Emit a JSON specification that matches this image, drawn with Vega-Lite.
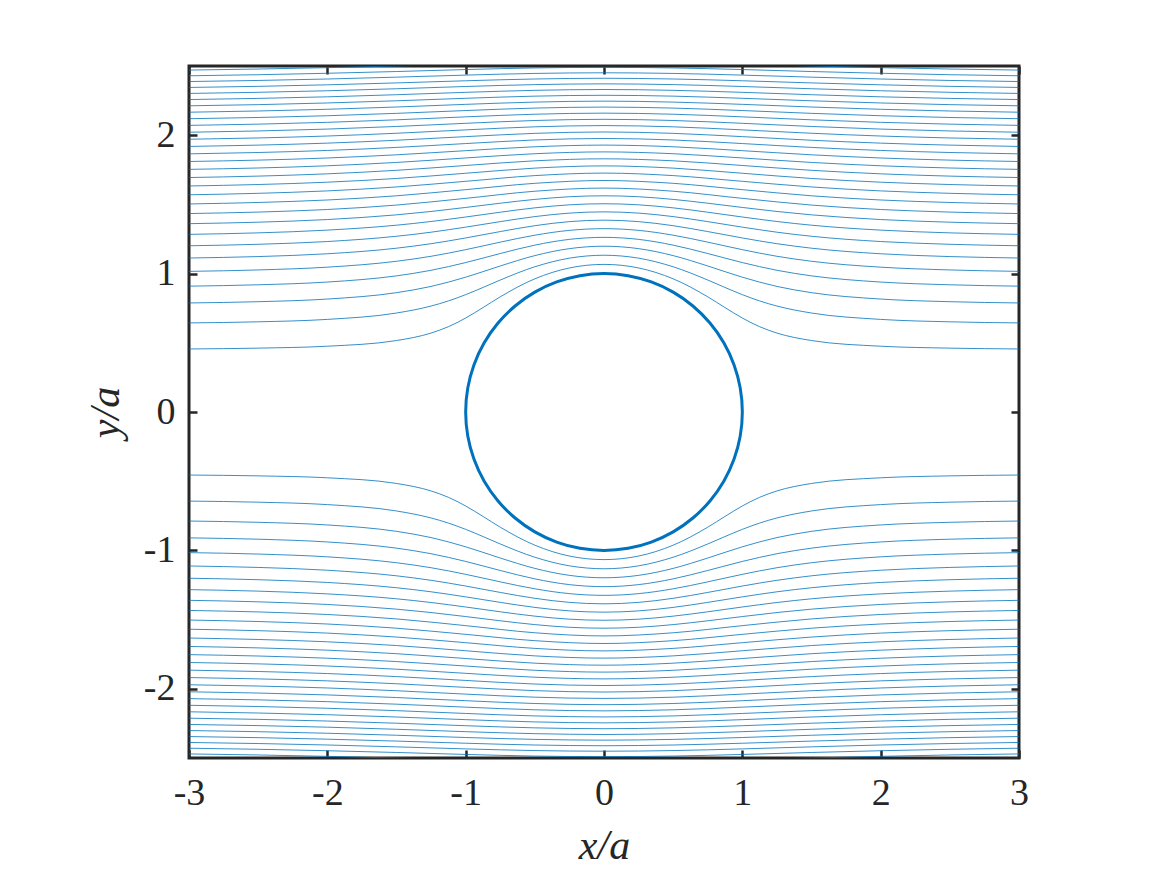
{
"$schema":"https://vega.github.io/schema/vega-lite/v6.json",
"width":830,"height":692,
"autosize":{"type":"none"},
"padding":{"left":189,"top":66,"right":148,"bottom":117},
"background":"white",
"config":{
 "view":{"stroke":"#262626","strokeWidth":3},
 "axis":{"labelFont":"Liberation Serif","labelFontSize":38,"labelColor":"#262626","tickColor":"#262626","tickWidth":2.5,"tickSize":-8,"domain":false,"grid":false,"labelFlush":false,"labelOverlap":false,"titleFont":"Liberation Serif","titleFontStyle":"italic","titleFontWeight":"normal","titleFontSize":42,"titleColor":"#262626","labelExpr":"datum.value < 0 ? '-' + abs(datum.value) : '' + datum.value"}
},
"datasets":{
"s":[
{"l":"a1","x":-3,"y":0.4555},{"l":"a1","x":-2.5,"y":0.4615},{"l":"a1","x":-2,"y":0.4754},{"l":"a1","x":-1.5,"y":0.5163},{"l":"a1","x":-1.25,"y":0.5705},{"l":"a1","x":-1.125,"y":0.6164},{"l":"a1","x":-1,"y":0.679},{"l":"a1","x":-0.875,"y":0.7543},{"l":"a1","x":-0.75,"y":0.8322},{"l":"a1","x":-0.5,"y":0.9623},{"l":"a1","x":-0.25,"y":1.0408},{"l":"a1","x":0,"y":1.0666},{"l":"a1","x":0.25,"y":1.0408},{"l":"a1","x":0.5,"y":0.9623},{"l":"a1","x":0.75,"y":0.8322},{"l":"a1","x":0.875,"y":0.7543},{"l":"a1","x":1,"y":0.679},{"l":"a1","x":1.125,"y":0.6164},{"l":"a1","x":1.25,"y":0.5705},{"l":"a1","x":1.5,"y":0.5163},{"l":"a1","x":2,"y":0.4754},{"l":"a1","x":2.5,"y":0.4615},{"l":"a1","x":3,"y":0.4555},
{"l":"a2","x":-3,"y":0.6437},{"l":"a2","x":-2.5,"y":0.6516},{"l":"a2","x":-2,"y":0.6691},{"l":"a2","x":-1.5,"y":0.7152},{"l":"a2","x":-1.25,"y":0.7656},{"l":"a2","x":-1.125,"y":0.8025},{"l":"a2","x":-1,"y":0.8479},{"l":"a2","x":-0.875,"y":0.8997},{"l":"a2","x":-0.75,"y":0.9535},{"l":"a2","x":-0.5,"y":1.0493},{"l":"a2","x":-0.25,"y":1.1115},{"l":"a2","x":0,"y":1.1327},{"l":"a2","x":0.25,"y":1.1115},{"l":"a2","x":0.5,"y":1.0493},{"l":"a2","x":0.75,"y":0.9535},{"l":"a2","x":0.875,"y":0.8997},{"l":"a2","x":1,"y":0.8479},{"l":"a2","x":1.125,"y":0.8025},{"l":"a2","x":1.25,"y":0.7656},{"l":"a2","x":1.5,"y":0.7152},{"l":"a2","x":2,"y":0.6691},{"l":"a2","x":2.5,"y":0.6516},{"l":"a2","x":3,"y":0.6437},
{"l":"a3","x":-3,"y":0.7879},{"l":"a3","x":-2.5,"y":0.797},{"l":"a3","x":-2,"y":0.8161},{"l":"a3","x":-1.5,"y":0.8623},{"l":"a3","x":-1.25,"y":0.9074},{"l":"a3","x":-1,"y":0.974},{"l":"a3","x":-0.75,"y":1.0551},{"l":"a3","x":-0.5,"y":1.13},{"l":"a3","x":-0.25,"y":1.1804},{"l":"a3","x":0,"y":1.1979},{"l":"a3","x":0.25,"y":1.1804},{"l":"a3","x":0.5,"y":1.13},{"l":"a3","x":0.75,"y":1.0551},{"l":"a3","x":1,"y":0.974},{"l":"a3","x":1.25,"y":0.9074},{"l":"a3","x":1.5,"y":0.8623},{"l":"a3","x":2,"y":0.8161},{"l":"a3","x":2.5,"y":0.797},{"l":"a3","x":3,"y":0.7879},
{"l":"a4","x":-3,"y":0.9093},{"l":"a4","x":-2.5,"y":0.9191},{"l":"a4","x":-2,"y":0.939},{"l":"a4","x":-1.5,"y":0.9837},{"l":"a4","x":-1.25,"y":1.0239},{"l":"a4","x":-1,"y":1.0797},{"l":"a4","x":-0.75,"y":1.1451},{"l":"a4","x":-0.5,"y":1.2057},{"l":"a4","x":-0.25,"y":1.2473},{"l":"a4","x":0,"y":1.2619},{"l":"a4","x":0.25,"y":1.2473},{"l":"a4","x":0.5,"y":1.2057},{"l":"a4","x":0.75,"y":1.1451},{"l":"a4","x":1,"y":1.0797},{"l":"a4","x":1.25,"y":1.0239},{"l":"a4","x":1.5,"y":0.9837},{"l":"a4","x":2,"y":0.939},{"l":"a4","x":2.5,"y":0.9191},{"l":"a4","x":3,"y":0.9093},
{"l":"a5","x":-3,"y":1.0161},{"l":"a5","x":-2.5,"y":1.0264},{"l":"a5","x":-2,"y":1.0465},{"l":"a5","x":-1.5,"y":1.0891},{"l":"a5","x":-1.25,"y":1.1252},{"l":"a5","x":-1,"y":1.1729},{"l":"a5","x":-0.75,"y":1.2273},{"l":"a5","x":-0.5,"y":1.2775},{"l":"a5","x":-0.25,"y":1.3124},{"l":"a5","x":0,"y":1.3247},{"l":"a5","x":0.25,"y":1.3124},{"l":"a5","x":0.5,"y":1.2775},{"l":"a5","x":0.75,"y":1.2273},{"l":"a5","x":1,"y":1.1729},{"l":"a5","x":1.25,"y":1.1252},{"l":"a5","x":1.5,"y":1.0891},{"l":"a5","x":2,"y":1.0465},{"l":"a5","x":2.5,"y":1.0264},{"l":"a5","x":3,"y":1.0161},
{"l":"a6","x":-3,"y":1.1126},{"l":"a6","x":-2.5,"y":1.1231},{"l":"a6","x":-2,"y":1.1432},{"l":"a6","x":-1.5,"y":1.1836},{"l":"a6","x":-1.25,"y":1.2161},{"l":"a6","x":-1,"y":1.2575},{"l":"a6","x":-0.75,"y":1.3037},{"l":"a6","x":-0.5,"y":1.3461},{"l":"a6","x":-0.25,"y":1.3756},{"l":"a6","x":0,"y":1.3861},{"l":"a6","x":0.25,"y":1.3756},{"l":"a6","x":0.5,"y":1.3461},{"l":"a6","x":0.75,"y":1.3037},{"l":"a6","x":1,"y":1.2575},{"l":"a6","x":1.25,"y":1.2161},{"l":"a6","x":1.5,"y":1.1836},{"l":"a6","x":2,"y":1.1432},{"l":"a6","x":2.5,"y":1.1231},{"l":"a6","x":3,"y":1.1126},
{"l":"a7","x":-3,"y":1.2011},{"l":"a7","x":-2.5,"y":1.2118},{"l":"a7","x":-2,"y":1.2317},{"l":"a7","x":-1.5,"y":1.2698},{"l":"a7","x":-1.25,"y":1.2992},{"l":"a7","x":-1,"y":1.3357},{"l":"a7","x":-0.75,"y":1.3755},{"l":"a7","x":-0.5,"y":1.4118},{"l":"a7","x":-0.25,"y":1.4371},{"l":"a7","x":0,"y":1.4462},{"l":"a7","x":0.25,"y":1.4371},{"l":"a7","x":0.5,"y":1.4118},{"l":"a7","x":0.75,"y":1.3755},{"l":"a7","x":1,"y":1.3357},{"l":"a7","x":1.25,"y":1.2992},{"l":"a7","x":1.5,"y":1.2698},{"l":"a7","x":2,"y":1.2317},{"l":"a7","x":2.5,"y":1.2118},{"l":"a7","x":3,"y":1.2011},
{"l":"a8","x":-3,"y":1.2835},{"l":"a8","x":-2.5,"y":1.2943},{"l":"a8","x":-2,"y":1.3142},{"l":"a8","x":-1.5,"y":1.3497},{"l":"a8","x":-1.25,"y":1.3765},{"l":"a8","x":-1,"y":1.4089},{"l":"a8","x":-0.75,"y":1.4436},{"l":"a8","x":-0.5,"y":1.4751},{"l":"a8","x":-0.25,"y":1.497},{"l":"a8","x":0,"y":1.5048},{"l":"a8","x":0.25,"y":1.497},{"l":"a8","x":0.5,"y":1.4751},{"l":"a8","x":0.75,"y":1.4436},{"l":"a8","x":1,"y":1.4089},{"l":"a8","x":1.25,"y":1.3765},{"l":"a8","x":1.5,"y":1.3497},{"l":"a8","x":2,"y":1.3142},{"l":"a8","x":2.5,"y":1.2943},{"l":"a8","x":3,"y":1.2835},
{"l":"a9","x":-3,"y":1.3608},{"l":"a9","x":-2.5,"y":1.3715},{"l":"a9","x":-2,"y":1.3906},{"l":"a9","x":-1.5,"y":1.4245},{"l":"a9","x":-1.25,"y":1.449},{"l":"a9","x":-1,"y":1.478},{"l":"a9","x":-0.75,"y":1.5086},{"l":"a9","x":-0.5,"y":1.5361},{"l":"a9","x":-0.25,"y":1.5554},{"l":"a9","x":0,"y":1.5621},{"l":"a9","x":0.25,"y":1.5554},{"l":"a9","x":0.5,"y":1.5361},{"l":"a9","x":0.75,"y":1.5086},{"l":"a9","x":1,"y":1.478},{"l":"a9","x":1.25,"y":1.449},{"l":"a9","x":1.5,"y":1.4245},{"l":"a9","x":2,"y":1.3906},{"l":"a9","x":2.5,"y":1.3715},{"l":"a9","x":3,"y":1.3608},
{"l":"a10","x":-3,"y":1.4339},{"l":"a10","x":-2.5,"y":1.4445},{"l":"a10","x":-2,"y":1.4631},{"l":"a10","x":-1.5,"y":1.4951},{"l":"a10","x":-1,"y":1.5437},{"l":"a10","x":-0.5,"y":1.5952},{"l":"a10","x":0,"y":1.618},{"l":"a10","x":0.5,"y":1.5952},{"l":"a10","x":1,"y":1.5437},{"l":"a10","x":1.5,"y":1.4951},{"l":"a10","x":2,"y":1.4631},{"l":"a10","x":2.5,"y":1.4445},{"l":"a10","x":3,"y":1.4339},
{"l":"a11","x":-3,"y":1.5033},{"l":"a11","x":-2.5,"y":1.5139},{"l":"a11","x":-2,"y":1.5319},{"l":"a11","x":-1.5,"y":1.5621},{"l":"a11","x":-1,"y":1.6065},{"l":"a11","x":-0.5,"y":1.6523},{"l":"a11","x":0,"y":1.6727},{"l":"a11","x":0.5,"y":1.6523},{"l":"a11","x":1,"y":1.6065},{"l":"a11","x":1.5,"y":1.5621},{"l":"a11","x":2,"y":1.5319},{"l":"a11","x":2.5,"y":1.5139},{"l":"a11","x":3,"y":1.5033},
{"l":"a12","x":-3,"y":1.5696},{"l":"a12","x":-2.5,"y":1.58},{"l":"a12","x":-2,"y":1.5976},{"l":"a12","x":-1.5,"y":1.6261},{"l":"a12","x":-1,"y":1.6668},{"l":"a12","x":-0.5,"y":1.7081},{"l":"a12","x":0,"y":1.7261},{"l":"a12","x":0.5,"y":1.7081},{"l":"a12","x":1,"y":1.6668},{"l":"a12","x":1.5,"y":1.6261},{"l":"a12","x":2,"y":1.5976},{"l":"a12","x":2.5,"y":1.58},{"l":"a12","x":3,"y":1.5696},
{"l":"a13","x":-3,"y":1.6331},{"l":"a13","x":-2.5,"y":1.6436},{"l":"a13","x":-2,"y":1.6604},{"l":"a13","x":-1.5,"y":1.6874},{"l":"a13","x":-1,"y":1.725},{"l":"a13","x":-0.5,"y":1.7622},{"l":"a13","x":0,"y":1.7783},{"l":"a13","x":0.5,"y":1.7622},{"l":"a13","x":1,"y":1.725},{"l":"a13","x":1.5,"y":1.6874},{"l":"a13","x":2,"y":1.6604},{"l":"a13","x":2.5,"y":1.6436},{"l":"a13","x":3,"y":1.6331},
{"l":"a14","x":-3,"y":1.6941},{"l":"a14","x":-2.5,"y":1.7044},{"l":"a14","x":-2,"y":1.7208},{"l":"a14","x":-1.5,"y":1.7464},{"l":"a14","x":-1,"y":1.7811},{"l":"a14","x":-0.5,"y":1.8149},{"l":"a14","x":0,"y":1.8294},{"l":"a14","x":0.5,"y":1.8149},{"l":"a14","x":1,"y":1.7811},{"l":"a14","x":1.5,"y":1.7464},{"l":"a14","x":2,"y":1.7208},{"l":"a14","x":2.5,"y":1.7044},{"l":"a14","x":3,"y":1.6941},
{"l":"a15","x":-3,"y":1.7531},{"l":"a15","x":-2.5,"y":1.7631},{"l":"a15","x":-2,"y":1.779},{"l":"a15","x":-1.5,"y":1.8033},{"l":"a15","x":-1,"y":1.8355},{"l":"a15","x":-0.5,"y":1.8662},{"l":"a15","x":0,"y":1.8794},{"l":"a15","x":0.5,"y":1.8662},{"l":"a15","x":1,"y":1.8355},{"l":"a15","x":1.5,"y":1.8033},{"l":"a15","x":2,"y":1.779},{"l":"a15","x":2.5,"y":1.7631},{"l":"a15","x":3,"y":1.7531},
{"l":"a16","x":-3,"y":1.81},{"l":"a16","x":-2.5,"y":1.8199},{"l":"a16","x":-2,"y":1.8353},{"l":"a16","x":-1.5,"y":1.8584},{"l":"a16","x":-1,"y":1.8882},{"l":"a16","x":-0.5,"y":1.9164},{"l":"a16","x":0,"y":1.9284},{"l":"a16","x":0.5,"y":1.9164},{"l":"a16","x":1,"y":1.8882},{"l":"a16","x":1.5,"y":1.8584},{"l":"a16","x":2,"y":1.8353},{"l":"a16","x":2.5,"y":1.8199},{"l":"a16","x":3,"y":1.81},
{"l":"a17","x":-3,"y":1.8652},{"l":"a17","x":-2.5,"y":1.8749},{"l":"a17","x":-2,"y":1.8898},{"l":"a17","x":-1.5,"y":1.9117},{"l":"a17","x":-1,"y":1.9396},{"l":"a17","x":-0.5,"y":1.9656},{"l":"a17","x":0,"y":1.9764},{"l":"a17","x":0.5,"y":1.9656},{"l":"a17","x":1,"y":1.9396},{"l":"a17","x":1.5,"y":1.9117},{"l":"a17","x":2,"y":1.8898},{"l":"a17","x":2.5,"y":1.8749},{"l":"a17","x":3,"y":1.8652},
{"l":"a18","x":-3,"y":1.9187},{"l":"a18","x":-2.5,"y":1.9283},{"l":"a18","x":-2,"y":1.9427},{"l":"a18","x":-1.5,"y":1.9636},{"l":"a18","x":-1,"y":1.9896},{"l":"a18","x":-0.5,"y":2.0133},{"l":"a18","x":0,"y":2.0234},{"l":"a18","x":0.5,"y":2.0133},{"l":"a18","x":1,"y":1.9896},{"l":"a18","x":1.5,"y":1.9636},{"l":"a18","x":2,"y":1.9427},{"l":"a18","x":2.5,"y":1.9283},{"l":"a18","x":3,"y":1.9187},
{"l":"a19","x":-3,"y":1.9708},{"l":"a19","x":-2.5,"y":1.9801},{"l":"a19","x":-2,"y":1.9941},{"l":"a19","x":-1.5,"y":2.014},{"l":"a19","x":-1,"y":2.0384},{"l":"a19","x":-0.5,"y":2.0605},{"l":"a19","x":0,"y":2.0696},{"l":"a19","x":0.5,"y":2.0605},{"l":"a19","x":1,"y":2.0384},{"l":"a19","x":1.5,"y":2.014},{"l":"a19","x":2,"y":1.9941},{"l":"a19","x":2.5,"y":1.9801},{"l":"a19","x":3,"y":1.9708},
{"l":"a20","x":-3,"y":2.0215},{"l":"a20","x":-2.5,"y":2.0306},{"l":"a20","x":-2,"y":2.0442},{"l":"a20","x":-1.5,"y":2.0631},{"l":"a20","x":-1,"y":2.086},{"l":"a20","x":-0.5,"y":2.1063},{"l":"a20","x":0,"y":2.1149},{"l":"a20","x":0.5,"y":2.1063},{"l":"a20","x":1,"y":2.086},{"l":"a20","x":1.5,"y":2.0631},{"l":"a20","x":2,"y":2.0442},{"l":"a20","x":2.5,"y":2.0306},{"l":"a20","x":3,"y":2.0215},
{"l":"a21","x":-3,"y":2.0709},{"l":"a21","x":-2.5,"y":2.0799},{"l":"a21","x":-2,"y":2.093},{"l":"a21","x":-1.5,"y":2.1111},{"l":"a21","x":-1,"y":2.1326},{"l":"a21","x":-0.5,"y":2.1517},{"l":"a21","x":0,"y":2.1594},{"l":"a21","x":0.5,"y":2.1517},{"l":"a21","x":1,"y":2.1326},{"l":"a21","x":1.5,"y":2.1111},{"l":"a21","x":2,"y":2.093},{"l":"a21","x":2.5,"y":2.0799},{"l":"a21","x":3,"y":2.0709},
{"l":"a22","x":-3,"y":2.1191},{"l":"a22","x":-2.5,"y":2.128},{"l":"a22","x":-2,"y":2.1406},{"l":"a22","x":-1.5,"y":2.1579},{"l":"a22","x":-1,"y":2.1782},{"l":"a22","x":-0.5,"y":2.1959},{"l":"a22","x":0,"y":2.2032},{"l":"a22","x":0.5,"y":2.1959},{"l":"a22","x":1,"y":2.1782},{"l":"a22","x":1.5,"y":2.1579},{"l":"a22","x":2,"y":2.1406},{"l":"a22","x":2.5,"y":2.128},{"l":"a22","x":3,"y":2.1191},
{"l":"a23","x":-3,"y":2.1661},{"l":"a23","x":-2.5,"y":2.1749},{"l":"a23","x":-2,"y":2.1872},{"l":"a23","x":-1.5,"y":2.2037},{"l":"a23","x":-1,"y":2.2229},{"l":"a23","x":-0.5,"y":2.2392},{"l":"a23","x":0,"y":2.2461},{"l":"a23","x":0.5,"y":2.2392},{"l":"a23","x":1,"y":2.2229},{"l":"a23","x":1.5,"y":2.2037},{"l":"a23","x":2,"y":2.1872},{"l":"a23","x":2.5,"y":2.1749},{"l":"a23","x":3,"y":2.1661},
{"l":"a24","x":-3,"y":2.2124},{"l":"a24","x":-2.5,"y":2.2208},{"l":"a24","x":-2,"y":2.2329},{"l":"a24","x":-1.5,"y":2.2486},{"l":"a24","x":-1,"y":2.2667},{"l":"a24","x":-0.5,"y":2.2822},{"l":"a24","x":0,"y":2.2884},{"l":"a24","x":0.5,"y":2.2822},{"l":"a24","x":1,"y":2.2667},{"l":"a24","x":1.5,"y":2.2486},{"l":"a24","x":2,"y":2.2329},{"l":"a24","x":2.5,"y":2.2208},{"l":"a24","x":3,"y":2.2124},
{"l":"a25","x":-3,"y":2.2575},{"l":"a25","x":-2.5,"y":2.2659},{"l":"a25","x":-2,"y":2.2773},{"l":"a25","x":-1.5,"y":2.2925},{"l":"a25","x":-1,"y":2.3097},{"l":"a25","x":-0.5,"y":2.3242},{"l":"a25","x":0,"y":2.3301},{"l":"a25","x":0.5,"y":2.3242},{"l":"a25","x":1,"y":2.3097},{"l":"a25","x":1.5,"y":2.2925},{"l":"a25","x":2,"y":2.2773},{"l":"a25","x":2.5,"y":2.2659},{"l":"a25","x":3,"y":2.2575},
{"l":"a26","x":-3,"y":2.3017},{"l":"a26","x":-2.5,"y":2.3099},{"l":"a26","x":-2,"y":2.3211},{"l":"a26","x":-1.5,"y":2.3356},{"l":"a26","x":-1,"y":2.3519},{"l":"a26","x":-0.5,"y":2.3655},{"l":"a26","x":0,"y":2.371},{"l":"a26","x":0.5,"y":2.3655},{"l":"a26","x":1,"y":2.3519},{"l":"a26","x":1.5,"y":2.3356},{"l":"a26","x":2,"y":2.3211},{"l":"a26","x":2.5,"y":2.3099},{"l":"a26","x":3,"y":2.3017},
{"l":"a27","x":-3,"y":2.3451},{"l":"a27","x":-2.5,"y":2.353},{"l":"a27","x":-2,"y":2.364},{"l":"a27","x":-1.5,"y":2.3778},{"l":"a27","x":-1,"y":2.3933},{"l":"a27","x":-0.5,"y":2.4061},{"l":"a27","x":0,"y":2.4114},{"l":"a27","x":0.5,"y":2.4061},{"l":"a27","x":1,"y":2.3933},{"l":"a27","x":1.5,"y":2.3778},{"l":"a27","x":2,"y":2.364},{"l":"a27","x":2.5,"y":2.353},{"l":"a27","x":3,"y":2.3451},
{"l":"a28","x":-3,"y":2.3877},{"l":"a28","x":-2.5,"y":2.3955},{"l":"a28","x":-2,"y":2.406},{"l":"a28","x":-1.5,"y":2.4195},{"l":"a28","x":-1,"y":2.4342},{"l":"a28","x":-0.5,"y":2.4463},{"l":"a28","x":0,"y":2.451},{"l":"a28","x":0.5,"y":2.4463},{"l":"a28","x":1,"y":2.4342},{"l":"a28","x":1.5,"y":2.4195},{"l":"a28","x":2,"y":2.406},{"l":"a28","x":2.5,"y":2.3955},{"l":"a28","x":3,"y":2.3877},
{"l":"a29","x":-3,"y":2.4293},{"l":"a29","x":-2.5,"y":2.4371},{"l":"a29","x":-2,"y":2.4474},{"l":"a29","x":-1.5,"y":2.4601},{"l":"a29","x":-1,"y":2.4743},{"l":"a29","x":-0.5,"y":2.4859},{"l":"a29","x":0,"y":2.4903},{"l":"a29","x":0.5,"y":2.4859},{"l":"a29","x":1,"y":2.4743},{"l":"a29","x":1.5,"y":2.4601},{"l":"a29","x":2,"y":2.4474},{"l":"a29","x":2.5,"y":2.4371},{"l":"a29","x":3,"y":2.4293},
{"l":"a30","x":-3,"y":2.4706},{"l":"a30","x":-2.5,"y":2.478},{"l":"a30","x":-2,"y":2.488},{"l":"a30","x":-1.5,"y":2.5002},{"l":"a30","x":-1,"y":2.5139},{"l":"a30","x":-0.5,"y":2.5246},{"l":"a30","x":0,"y":2.5289},{"l":"a30","x":0.5,"y":2.5246},{"l":"a30","x":1,"y":2.5139},{"l":"a30","x":1.5,"y":2.5002},{"l":"a30","x":2,"y":2.488},{"l":"a30","x":2.5,"y":2.478},{"l":"a30","x":3,"y":2.4706},
{"l":"b1","x":-3,"y":-0.4555},{"l":"b1","x":-2.5,"y":-0.4615},{"l":"b1","x":-2,"y":-0.4754},{"l":"b1","x":-1.5,"y":-0.5163},{"l":"b1","x":-1.25,"y":-0.5705},{"l":"b1","x":-1.125,"y":-0.6164},{"l":"b1","x":-1,"y":-0.679},{"l":"b1","x":-0.875,"y":-0.7543},{"l":"b1","x":-0.75,"y":-0.8322},{"l":"b1","x":-0.5,"y":-0.9623},{"l":"b1","x":-0.25,"y":-1.0408},{"l":"b1","x":0,"y":-1.0666},{"l":"b1","x":0.25,"y":-1.0408},{"l":"b1","x":0.5,"y":-0.9623},{"l":"b1","x":0.75,"y":-0.8322},{"l":"b1","x":0.875,"y":-0.7543},{"l":"b1","x":1,"y":-0.679},{"l":"b1","x":1.125,"y":-0.6164},{"l":"b1","x":1.25,"y":-0.5705},{"l":"b1","x":1.5,"y":-0.5163},{"l":"b1","x":2,"y":-0.4754},{"l":"b1","x":2.5,"y":-0.4615},{"l":"b1","x":3,"y":-0.4555},
{"l":"b2","x":-3,"y":-0.6437},{"l":"b2","x":-2.5,"y":-0.6516},{"l":"b2","x":-2,"y":-0.6691},{"l":"b2","x":-1.5,"y":-0.7152},{"l":"b2","x":-1.25,"y":-0.7656},{"l":"b2","x":-1.125,"y":-0.8025},{"l":"b2","x":-1,"y":-0.8479},{"l":"b2","x":-0.875,"y":-0.8997},{"l":"b2","x":-0.75,"y":-0.9535},{"l":"b2","x":-0.5,"y":-1.0493},{"l":"b2","x":-0.25,"y":-1.1115},{"l":"b2","x":0,"y":-1.1327},{"l":"b2","x":0.25,"y":-1.1115},{"l":"b2","x":0.5,"y":-1.0493},{"l":"b2","x":0.75,"y":-0.9535},{"l":"b2","x":0.875,"y":-0.8997},{"l":"b2","x":1,"y":-0.8479},{"l":"b2","x":1.125,"y":-0.8025},{"l":"b2","x":1.25,"y":-0.7656},{"l":"b2","x":1.5,"y":-0.7152},{"l":"b2","x":2,"y":-0.6691},{"l":"b2","x":2.5,"y":-0.6516},{"l":"b2","x":3,"y":-0.6437},
{"l":"b3","x":-3,"y":-0.7879},{"l":"b3","x":-2.5,"y":-0.797},{"l":"b3","x":-2,"y":-0.8161},{"l":"b3","x":-1.5,"y":-0.8623},{"l":"b3","x":-1.25,"y":-0.9074},{"l":"b3","x":-1,"y":-0.974},{"l":"b3","x":-0.75,"y":-1.0551},{"l":"b3","x":-0.5,"y":-1.13},{"l":"b3","x":-0.25,"y":-1.1804},{"l":"b3","x":0,"y":-1.1979},{"l":"b3","x":0.25,"y":-1.1804},{"l":"b3","x":0.5,"y":-1.13},{"l":"b3","x":0.75,"y":-1.0551},{"l":"b3","x":1,"y":-0.974},{"l":"b3","x":1.25,"y":-0.9074},{"l":"b3","x":1.5,"y":-0.8623},{"l":"b3","x":2,"y":-0.8161},{"l":"b3","x":2.5,"y":-0.797},{"l":"b3","x":3,"y":-0.7879},
{"l":"b4","x":-3,"y":-0.9093},{"l":"b4","x":-2.5,"y":-0.9191},{"l":"b4","x":-2,"y":-0.939},{"l":"b4","x":-1.5,"y":-0.9837},{"l":"b4","x":-1.25,"y":-1.0239},{"l":"b4","x":-1,"y":-1.0797},{"l":"b4","x":-0.75,"y":-1.1451},{"l":"b4","x":-0.5,"y":-1.2057},{"l":"b4","x":-0.25,"y":-1.2473},{"l":"b4","x":0,"y":-1.2619},{"l":"b4","x":0.25,"y":-1.2473},{"l":"b4","x":0.5,"y":-1.2057},{"l":"b4","x":0.75,"y":-1.1451},{"l":"b4","x":1,"y":-1.0797},{"l":"b4","x":1.25,"y":-1.0239},{"l":"b4","x":1.5,"y":-0.9837},{"l":"b4","x":2,"y":-0.939},{"l":"b4","x":2.5,"y":-0.9191},{"l":"b4","x":3,"y":-0.9093},
{"l":"b5","x":-3,"y":-1.0161},{"l":"b5","x":-2.5,"y":-1.0264},{"l":"b5","x":-2,"y":-1.0465},{"l":"b5","x":-1.5,"y":-1.0891},{"l":"b5","x":-1.25,"y":-1.1252},{"l":"b5","x":-1,"y":-1.1729},{"l":"b5","x":-0.75,"y":-1.2273},{"l":"b5","x":-0.5,"y":-1.2775},{"l":"b5","x":-0.25,"y":-1.3124},{"l":"b5","x":0,"y":-1.3247},{"l":"b5","x":0.25,"y":-1.3124},{"l":"b5","x":0.5,"y":-1.2775},{"l":"b5","x":0.75,"y":-1.2273},{"l":"b5","x":1,"y":-1.1729},{"l":"b5","x":1.25,"y":-1.1252},{"l":"b5","x":1.5,"y":-1.0891},{"l":"b5","x":2,"y":-1.0465},{"l":"b5","x":2.5,"y":-1.0264},{"l":"b5","x":3,"y":-1.0161},
{"l":"b6","x":-3,"y":-1.1126},{"l":"b6","x":-2.5,"y":-1.1231},{"l":"b6","x":-2,"y":-1.1432},{"l":"b6","x":-1.5,"y":-1.1836},{"l":"b6","x":-1.25,"y":-1.2161},{"l":"b6","x":-1,"y":-1.2575},{"l":"b6","x":-0.75,"y":-1.3037},{"l":"b6","x":-0.5,"y":-1.3461},{"l":"b6","x":-0.25,"y":-1.3756},{"l":"b6","x":0,"y":-1.3861},{"l":"b6","x":0.25,"y":-1.3756},{"l":"b6","x":0.5,"y":-1.3461},{"l":"b6","x":0.75,"y":-1.3037},{"l":"b6","x":1,"y":-1.2575},{"l":"b6","x":1.25,"y":-1.2161},{"l":"b6","x":1.5,"y":-1.1836},{"l":"b6","x":2,"y":-1.1432},{"l":"b6","x":2.5,"y":-1.1231},{"l":"b6","x":3,"y":-1.1126},
{"l":"b7","x":-3,"y":-1.2011},{"l":"b7","x":-2.5,"y":-1.2118},{"l":"b7","x":-2,"y":-1.2317},{"l":"b7","x":-1.5,"y":-1.2698},{"l":"b7","x":-1.25,"y":-1.2992},{"l":"b7","x":-1,"y":-1.3357},{"l":"b7","x":-0.75,"y":-1.3755},{"l":"b7","x":-0.5,"y":-1.4118},{"l":"b7","x":-0.25,"y":-1.4371},{"l":"b7","x":0,"y":-1.4462},{"l":"b7","x":0.25,"y":-1.4371},{"l":"b7","x":0.5,"y":-1.4118},{"l":"b7","x":0.75,"y":-1.3755},{"l":"b7","x":1,"y":-1.3357},{"l":"b7","x":1.25,"y":-1.2992},{"l":"b7","x":1.5,"y":-1.2698},{"l":"b7","x":2,"y":-1.2317},{"l":"b7","x":2.5,"y":-1.2118},{"l":"b7","x":3,"y":-1.2011},
{"l":"b8","x":-3,"y":-1.2835},{"l":"b8","x":-2.5,"y":-1.2943},{"l":"b8","x":-2,"y":-1.3142},{"l":"b8","x":-1.5,"y":-1.3497},{"l":"b8","x":-1.25,"y":-1.3765},{"l":"b8","x":-1,"y":-1.4089},{"l":"b8","x":-0.75,"y":-1.4436},{"l":"b8","x":-0.5,"y":-1.4751},{"l":"b8","x":-0.25,"y":-1.497},{"l":"b8","x":0,"y":-1.5048},{"l":"b8","x":0.25,"y":-1.497},{"l":"b8","x":0.5,"y":-1.4751},{"l":"b8","x":0.75,"y":-1.4436},{"l":"b8","x":1,"y":-1.4089},{"l":"b8","x":1.25,"y":-1.3765},{"l":"b8","x":1.5,"y":-1.3497},{"l":"b8","x":2,"y":-1.3142},{"l":"b8","x":2.5,"y":-1.2943},{"l":"b8","x":3,"y":-1.2835},
{"l":"b9","x":-3,"y":-1.3608},{"l":"b9","x":-2.5,"y":-1.3715},{"l":"b9","x":-2,"y":-1.3906},{"l":"b9","x":-1.5,"y":-1.4245},{"l":"b9","x":-1.25,"y":-1.449},{"l":"b9","x":-1,"y":-1.478},{"l":"b9","x":-0.75,"y":-1.5086},{"l":"b9","x":-0.5,"y":-1.5361},{"l":"b9","x":-0.25,"y":-1.5554},{"l":"b9","x":0,"y":-1.5621},{"l":"b9","x":0.25,"y":-1.5554},{"l":"b9","x":0.5,"y":-1.5361},{"l":"b9","x":0.75,"y":-1.5086},{"l":"b9","x":1,"y":-1.478},{"l":"b9","x":1.25,"y":-1.449},{"l":"b9","x":1.5,"y":-1.4245},{"l":"b9","x":2,"y":-1.3906},{"l":"b9","x":2.5,"y":-1.3715},{"l":"b9","x":3,"y":-1.3608},
{"l":"b10","x":-3,"y":-1.4339},{"l":"b10","x":-2.5,"y":-1.4445},{"l":"b10","x":-2,"y":-1.4631},{"l":"b10","x":-1.5,"y":-1.4951},{"l":"b10","x":-1,"y":-1.5437},{"l":"b10","x":-0.5,"y":-1.5952},{"l":"b10","x":0,"y":-1.618},{"l":"b10","x":0.5,"y":-1.5952},{"l":"b10","x":1,"y":-1.5437},{"l":"b10","x":1.5,"y":-1.4951},{"l":"b10","x":2,"y":-1.4631},{"l":"b10","x":2.5,"y":-1.4445},{"l":"b10","x":3,"y":-1.4339},
{"l":"b11","x":-3,"y":-1.5033},{"l":"b11","x":-2.5,"y":-1.5139},{"l":"b11","x":-2,"y":-1.5319},{"l":"b11","x":-1.5,"y":-1.5621},{"l":"b11","x":-1,"y":-1.6065},{"l":"b11","x":-0.5,"y":-1.6523},{"l":"b11","x":0,"y":-1.6727},{"l":"b11","x":0.5,"y":-1.6523},{"l":"b11","x":1,"y":-1.6065},{"l":"b11","x":1.5,"y":-1.5621},{"l":"b11","x":2,"y":-1.5319},{"l":"b11","x":2.5,"y":-1.5139},{"l":"b11","x":3,"y":-1.5033},
{"l":"b12","x":-3,"y":-1.5696},{"l":"b12","x":-2.5,"y":-1.58},{"l":"b12","x":-2,"y":-1.5976},{"l":"b12","x":-1.5,"y":-1.6261},{"l":"b12","x":-1,"y":-1.6668},{"l":"b12","x":-0.5,"y":-1.7081},{"l":"b12","x":0,"y":-1.7261},{"l":"b12","x":0.5,"y":-1.7081},{"l":"b12","x":1,"y":-1.6668},{"l":"b12","x":1.5,"y":-1.6261},{"l":"b12","x":2,"y":-1.5976},{"l":"b12","x":2.5,"y":-1.58},{"l":"b12","x":3,"y":-1.5696},
{"l":"b13","x":-3,"y":-1.6331},{"l":"b13","x":-2.5,"y":-1.6436},{"l":"b13","x":-2,"y":-1.6604},{"l":"b13","x":-1.5,"y":-1.6874},{"l":"b13","x":-1,"y":-1.725},{"l":"b13","x":-0.5,"y":-1.7622},{"l":"b13","x":0,"y":-1.7783},{"l":"b13","x":0.5,"y":-1.7622},{"l":"b13","x":1,"y":-1.725},{"l":"b13","x":1.5,"y":-1.6874},{"l":"b13","x":2,"y":-1.6604},{"l":"b13","x":2.5,"y":-1.6436},{"l":"b13","x":3,"y":-1.6331},
{"l":"b14","x":-3,"y":-1.6941},{"l":"b14","x":-2.5,"y":-1.7044},{"l":"b14","x":-2,"y":-1.7208},{"l":"b14","x":-1.5,"y":-1.7464},{"l":"b14","x":-1,"y":-1.7811},{"l":"b14","x":-0.5,"y":-1.8149},{"l":"b14","x":0,"y":-1.8294},{"l":"b14","x":0.5,"y":-1.8149},{"l":"b14","x":1,"y":-1.7811},{"l":"b14","x":1.5,"y":-1.7464},{"l":"b14","x":2,"y":-1.7208},{"l":"b14","x":2.5,"y":-1.7044},{"l":"b14","x":3,"y":-1.6941},
{"l":"b15","x":-3,"y":-1.7531},{"l":"b15","x":-2.5,"y":-1.7631},{"l":"b15","x":-2,"y":-1.779},{"l":"b15","x":-1.5,"y":-1.8033},{"l":"b15","x":-1,"y":-1.8355},{"l":"b15","x":-0.5,"y":-1.8662},{"l":"b15","x":0,"y":-1.8794},{"l":"b15","x":0.5,"y":-1.8662},{"l":"b15","x":1,"y":-1.8355},{"l":"b15","x":1.5,"y":-1.8033},{"l":"b15","x":2,"y":-1.779},{"l":"b15","x":2.5,"y":-1.7631},{"l":"b15","x":3,"y":-1.7531},
{"l":"b16","x":-3,"y":-1.81},{"l":"b16","x":-2.5,"y":-1.8199},{"l":"b16","x":-2,"y":-1.8353},{"l":"b16","x":-1.5,"y":-1.8584},{"l":"b16","x":-1,"y":-1.8882},{"l":"b16","x":-0.5,"y":-1.9164},{"l":"b16","x":0,"y":-1.9284},{"l":"b16","x":0.5,"y":-1.9164},{"l":"b16","x":1,"y":-1.8882},{"l":"b16","x":1.5,"y":-1.8584},{"l":"b16","x":2,"y":-1.8353},{"l":"b16","x":2.5,"y":-1.8199},{"l":"b16","x":3,"y":-1.81},
{"l":"b17","x":-3,"y":-1.8652},{"l":"b17","x":-2.5,"y":-1.8749},{"l":"b17","x":-2,"y":-1.8898},{"l":"b17","x":-1.5,"y":-1.9117},{"l":"b17","x":-1,"y":-1.9396},{"l":"b17","x":-0.5,"y":-1.9656},{"l":"b17","x":0,"y":-1.9764},{"l":"b17","x":0.5,"y":-1.9656},{"l":"b17","x":1,"y":-1.9396},{"l":"b17","x":1.5,"y":-1.9117},{"l":"b17","x":2,"y":-1.8898},{"l":"b17","x":2.5,"y":-1.8749},{"l":"b17","x":3,"y":-1.8652},
{"l":"b18","x":-3,"y":-1.9187},{"l":"b18","x":-2.5,"y":-1.9283},{"l":"b18","x":-2,"y":-1.9427},{"l":"b18","x":-1.5,"y":-1.9636},{"l":"b18","x":-1,"y":-1.9896},{"l":"b18","x":-0.5,"y":-2.0133},{"l":"b18","x":0,"y":-2.0234},{"l":"b18","x":0.5,"y":-2.0133},{"l":"b18","x":1,"y":-1.9896},{"l":"b18","x":1.5,"y":-1.9636},{"l":"b18","x":2,"y":-1.9427},{"l":"b18","x":2.5,"y":-1.9283},{"l":"b18","x":3,"y":-1.9187},
{"l":"b19","x":-3,"y":-1.9708},{"l":"b19","x":-2.5,"y":-1.9801},{"l":"b19","x":-2,"y":-1.9941},{"l":"b19","x":-1.5,"y":-2.014},{"l":"b19","x":-1,"y":-2.0384},{"l":"b19","x":-0.5,"y":-2.0605},{"l":"b19","x":0,"y":-2.0696},{"l":"b19","x":0.5,"y":-2.0605},{"l":"b19","x":1,"y":-2.0384},{"l":"b19","x":1.5,"y":-2.014},{"l":"b19","x":2,"y":-1.9941},{"l":"b19","x":2.5,"y":-1.9801},{"l":"b19","x":3,"y":-1.9708},
{"l":"b20","x":-3,"y":-2.0215},{"l":"b20","x":-2.5,"y":-2.0306},{"l":"b20","x":-2,"y":-2.0442},{"l":"b20","x":-1.5,"y":-2.0631},{"l":"b20","x":-1,"y":-2.086},{"l":"b20","x":-0.5,"y":-2.1063},{"l":"b20","x":0,"y":-2.1149},{"l":"b20","x":0.5,"y":-2.1063},{"l":"b20","x":1,"y":-2.086},{"l":"b20","x":1.5,"y":-2.0631},{"l":"b20","x":2,"y":-2.0442},{"l":"b20","x":2.5,"y":-2.0306},{"l":"b20","x":3,"y":-2.0215},
{"l":"b21","x":-3,"y":-2.0709},{"l":"b21","x":-2.5,"y":-2.0799},{"l":"b21","x":-2,"y":-2.093},{"l":"b21","x":-1.5,"y":-2.1111},{"l":"b21","x":-1,"y":-2.1326},{"l":"b21","x":-0.5,"y":-2.1517},{"l":"b21","x":0,"y":-2.1594},{"l":"b21","x":0.5,"y":-2.1517},{"l":"b21","x":1,"y":-2.1326},{"l":"b21","x":1.5,"y":-2.1111},{"l":"b21","x":2,"y":-2.093},{"l":"b21","x":2.5,"y":-2.0799},{"l":"b21","x":3,"y":-2.0709},
{"l":"b22","x":-3,"y":-2.1191},{"l":"b22","x":-2.5,"y":-2.128},{"l":"b22","x":-2,"y":-2.1406},{"l":"b22","x":-1.5,"y":-2.1579},{"l":"b22","x":-1,"y":-2.1782},{"l":"b22","x":-0.5,"y":-2.1959},{"l":"b22","x":0,"y":-2.2032},{"l":"b22","x":0.5,"y":-2.1959},{"l":"b22","x":1,"y":-2.1782},{"l":"b22","x":1.5,"y":-2.1579},{"l":"b22","x":2,"y":-2.1406},{"l":"b22","x":2.5,"y":-2.128},{"l":"b22","x":3,"y":-2.1191},
{"l":"b23","x":-3,"y":-2.1661},{"l":"b23","x":-2.5,"y":-2.1749},{"l":"b23","x":-2,"y":-2.1872},{"l":"b23","x":-1.5,"y":-2.2037},{"l":"b23","x":-1,"y":-2.2229},{"l":"b23","x":-0.5,"y":-2.2392},{"l":"b23","x":0,"y":-2.2461},{"l":"b23","x":0.5,"y":-2.2392},{"l":"b23","x":1,"y":-2.2229},{"l":"b23","x":1.5,"y":-2.2037},{"l":"b23","x":2,"y":-2.1872},{"l":"b23","x":2.5,"y":-2.1749},{"l":"b23","x":3,"y":-2.1661},
{"l":"b24","x":-3,"y":-2.2124},{"l":"b24","x":-2.5,"y":-2.2208},{"l":"b24","x":-2,"y":-2.2329},{"l":"b24","x":-1.5,"y":-2.2486},{"l":"b24","x":-1,"y":-2.2667},{"l":"b24","x":-0.5,"y":-2.2822},{"l":"b24","x":0,"y":-2.2884},{"l":"b24","x":0.5,"y":-2.2822},{"l":"b24","x":1,"y":-2.2667},{"l":"b24","x":1.5,"y":-2.2486},{"l":"b24","x":2,"y":-2.2329},{"l":"b24","x":2.5,"y":-2.2208},{"l":"b24","x":3,"y":-2.2124},
{"l":"b25","x":-3,"y":-2.2575},{"l":"b25","x":-2.5,"y":-2.2659},{"l":"b25","x":-2,"y":-2.2773},{"l":"b25","x":-1.5,"y":-2.2925},{"l":"b25","x":-1,"y":-2.3097},{"l":"b25","x":-0.5,"y":-2.3242},{"l":"b25","x":0,"y":-2.3301},{"l":"b25","x":0.5,"y":-2.3242},{"l":"b25","x":1,"y":-2.3097},{"l":"b25","x":1.5,"y":-2.2925},{"l":"b25","x":2,"y":-2.2773},{"l":"b25","x":2.5,"y":-2.2659},{"l":"b25","x":3,"y":-2.2575},
{"l":"b26","x":-3,"y":-2.3017},{"l":"b26","x":-2.5,"y":-2.3099},{"l":"b26","x":-2,"y":-2.3211},{"l":"b26","x":-1.5,"y":-2.3356},{"l":"b26","x":-1,"y":-2.3519},{"l":"b26","x":-0.5,"y":-2.3655},{"l":"b26","x":0,"y":-2.371},{"l":"b26","x":0.5,"y":-2.3655},{"l":"b26","x":1,"y":-2.3519},{"l":"b26","x":1.5,"y":-2.3356},{"l":"b26","x":2,"y":-2.3211},{"l":"b26","x":2.5,"y":-2.3099},{"l":"b26","x":3,"y":-2.3017},
{"l":"b27","x":-3,"y":-2.3451},{"l":"b27","x":-2.5,"y":-2.353},{"l":"b27","x":-2,"y":-2.364},{"l":"b27","x":-1.5,"y":-2.3778},{"l":"b27","x":-1,"y":-2.3933},{"l":"b27","x":-0.5,"y":-2.4061},{"l":"b27","x":0,"y":-2.4114},{"l":"b27","x":0.5,"y":-2.4061},{"l":"b27","x":1,"y":-2.3933},{"l":"b27","x":1.5,"y":-2.3778},{"l":"b27","x":2,"y":-2.364},{"l":"b27","x":2.5,"y":-2.353},{"l":"b27","x":3,"y":-2.3451},
{"l":"b28","x":-3,"y":-2.3877},{"l":"b28","x":-2.5,"y":-2.3955},{"l":"b28","x":-2,"y":-2.406},{"l":"b28","x":-1.5,"y":-2.4195},{"l":"b28","x":-1,"y":-2.4342},{"l":"b28","x":-0.5,"y":-2.4463},{"l":"b28","x":0,"y":-2.451},{"l":"b28","x":0.5,"y":-2.4463},{"l":"b28","x":1,"y":-2.4342},{"l":"b28","x":1.5,"y":-2.4195},{"l":"b28","x":2,"y":-2.406},{"l":"b28","x":2.5,"y":-2.3955},{"l":"b28","x":3,"y":-2.3877},
{"l":"b29","x":-3,"y":-2.4293},{"l":"b29","x":-2.5,"y":-2.4371},{"l":"b29","x":-2,"y":-2.4474},{"l":"b29","x":-1.5,"y":-2.4601},{"l":"b29","x":-1,"y":-2.4743},{"l":"b29","x":-0.5,"y":-2.4859},{"l":"b29","x":0,"y":-2.4903},{"l":"b29","x":0.5,"y":-2.4859},{"l":"b29","x":1,"y":-2.4743},{"l":"b29","x":1.5,"y":-2.4601},{"l":"b29","x":2,"y":-2.4474},{"l":"b29","x":2.5,"y":-2.4371},{"l":"b29","x":3,"y":-2.4293},
{"l":"b30","x":-3,"y":-2.4706},{"l":"b30","x":-2.5,"y":-2.478},{"l":"b30","x":-2,"y":-2.488},{"l":"b30","x":-1.5,"y":-2.5002},{"l":"b30","x":-1,"y":-2.5139},{"l":"b30","x":-0.5,"y":-2.5246},{"l":"b30","x":0,"y":-2.5289},{"l":"b30","x":0.5,"y":-2.5246},{"l":"b30","x":1,"y":-2.5139},{"l":"b30","x":1.5,"y":-2.5002},{"l":"b30","x":2,"y":-2.488},{"l":"b30","x":2.5,"y":-2.478},{"l":"b30","x":3,"y":-2.4706}
],
"c":[
{"i":0,"x":1,"y":0},{"i":1,"x":0.98481,"y":0.17365},{"i":2,"x":0.93969,"y":0.34202},{"i":3,"x":0.86603,"y":0.5},{"i":4,"x":0.76604,"y":0.64279},{"i":5,"x":0.64279,"y":0.76604},{"i":6,"x":0.5,"y":0.86603},{"i":7,"x":0.34202,"y":0.93969},{"i":8,"x":0.17365,"y":0.98481},{"i":9,"x":0,"y":1},{"i":10,"x":-0.17365,"y":0.98481},{"i":11,"x":-0.34202,"y":0.93969},{"i":12,"x":-0.5,"y":0.86603},{"i":13,"x":-0.64279,"y":0.76604},{"i":14,"x":-0.76604,"y":0.64279},{"i":15,"x":-0.86603,"y":0.5},{"i":16,"x":-0.93969,"y":0.34202},{"i":17,"x":-0.98481,"y":0.17365},{"i":18,"x":-1,"y":0},{"i":19,"x":-0.98481,"y":-0.17365},{"i":20,"x":-0.93969,"y":-0.34202},{"i":21,"x":-0.86603,"y":-0.5},{"i":22,"x":-0.76604,"y":-0.64279},{"i":23,"x":-0.64279,"y":-0.76604},{"i":24,"x":-0.5,"y":-0.86603},{"i":25,"x":-0.34202,"y":-0.93969},{"i":26,"x":-0.17365,"y":-0.98481},{"i":27,"x":0,"y":-1},{"i":28,"x":0.17365,"y":-0.98481},{"i":29,"x":0.34202,"y":-0.93969},{"i":30,"x":0.5,"y":-0.86603},{"i":31,"x":0.64279,"y":-0.76604},{"i":32,"x":0.76604,"y":-0.64279},{"i":33,"x":0.86603,"y":-0.5},{"i":34,"x":0.93969,"y":-0.34202},{"i":35,"x":0.98481,"y":-0.17365}
]
},
"layer":[
{
 "data":{"name":"s"},
 "mark":{"type":"line","clip":true,"interpolate":"monotone","strokeWidth":0.8,"color":"#0072BD"},
 "encoding":{
  "x":{"field":"x","type":"quantitative","scale":{"domain":[-3,3],"nice":false,"zero":false},"axis":{"orient":"bottom","values":[-3,-2,-1,0,1,2,3],"title":"x/a","labelPadding":24,"titlePadding":13}},
  "y":{"field":"y","type":"quantitative","scale":{"domain":[-2.5,2.5],"nice":false,"zero":false},"axis":{"orient":"left","values":[-2,-1,0,1,2],"title":"y/a","labelPadding":22,"titlePadding":16}},
  "detail":{"field":"l","type":"nominal"}
 }
},
{
 "data":{"name":"c"},
 "mark":{"type":"line","clip":true,"interpolate":"cardinal-closed","strokeWidth":3,"color":"#0072BD"},
 "encoding":{
  "x":{"field":"x","type":"quantitative","axis":{"orient":"top","values":[-3,-2,-1,0,1,2,3],"labels":false,"title":null}},
  "y":{"field":"y","type":"quantitative","axis":{"orient":"right","values":[-2,-1,0,1,2],"labels":false,"title":null}},
  "order":{"field":"i","type":"quantitative"}
 }
}
],
"resolve":{"axis":{"x":"independent","y":"independent"}}
}
